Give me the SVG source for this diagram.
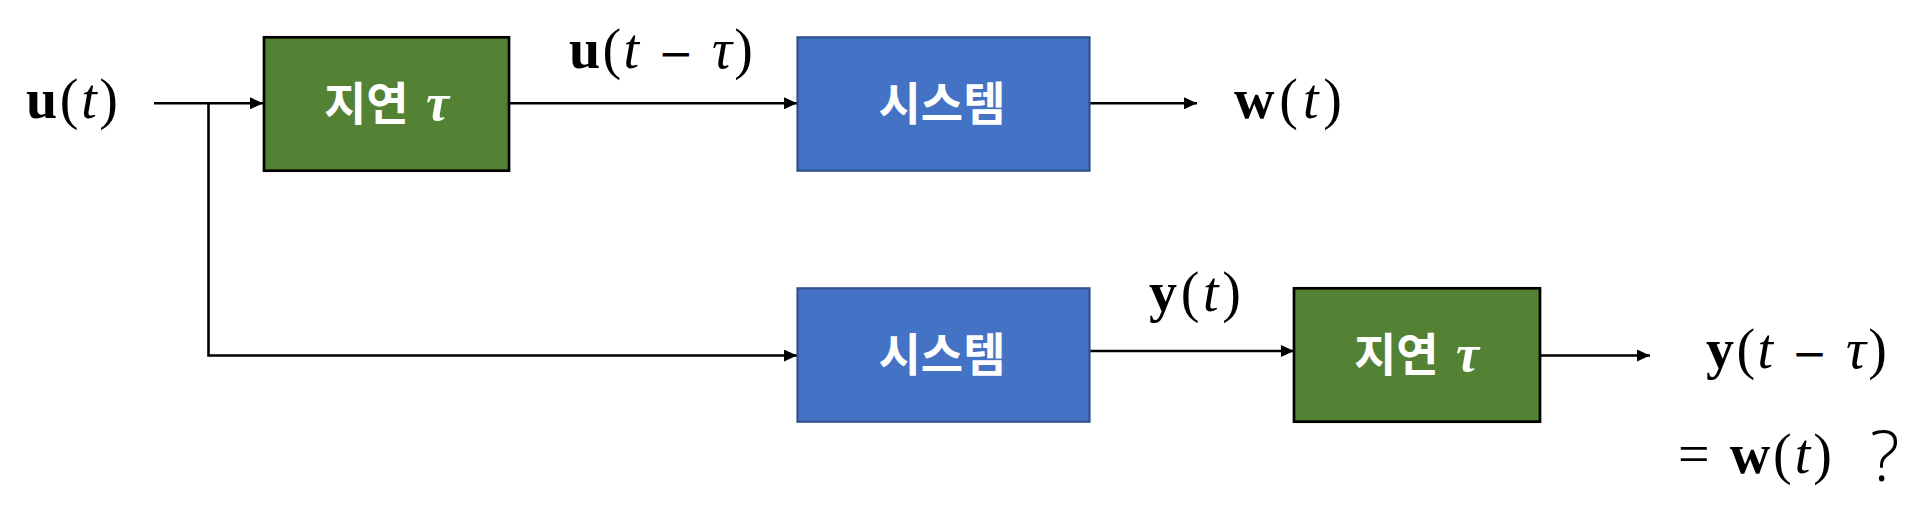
<svg xmlns="http://www.w3.org/2000/svg" width="1919" height="507" viewBox="0 0 1919 507">
<defs>
<marker id="arr" markerUnits="userSpaceOnUse" markerWidth="13" markerHeight="12" refX="13" refY="6" orient="auto">
<path d="M0,0 L13,6 L0,12 z" fill="#000"/>
</marker>
<style>
.delay{fill:#548235;stroke:#000;stroke-width:2.7}
.sys{fill:#4472C4;stroke:#2F528F;stroke-width:2.2}
.kr{font-family:"Noto Sans CJK KR","Noto Sans",sans-serif;font-weight:bold;font-size:46px;fill:#fff}
.tau{font-family:"Liberation Serif",serif;font-style:italic;font-weight:bold;font-size:52px}
.math{font-family:"Liberation Serif",serif;font-size:56px;fill:#000}
.b{font-weight:bold;font-style:normal}
.i{font-style:italic}
.m{font-family:"DejaVu Serif",serif;font-size:42px}
.q{font-family:"Open Sans","Liberation Sans",sans-serif;font-weight:300;font-size:70px;fill:#000}
.conn{fill:none;stroke:#000;stroke-width:2.6}
</style>
</defs>
<rect width="1919" height="507" fill="#fff"/>
<g id="connectors">
<path class="conn" d="M154,103.3 H263" marker-end="url(#arr)"/>
<path class="conn" d="M208.5,103.3 V355.5 H797" marker-end="url(#arr)"/>
<path class="conn" d="M509,103.3 H797" marker-end="url(#arr)"/>
<path class="conn" d="M1090,103.3 H1197" marker-end="url(#arr)"/>
<path class="conn" d="M1084,351 H1294" marker-end="url(#arr)"/>
<path class="conn" d="M1540,355.5 H1650" marker-end="url(#arr)"/>
</g>
<g id="delay1">
<rect class="delay" x="264" y="37.3" width="245" height="133.4"/>
<text class="kr" x="324" y="120">지연<tspan class="tau" x="426">τ</tspan></text>
</g>
<g id="system1">
<rect class="sys" x="797.5" y="37.3" width="292" height="133.4"/>
<text class="kr" x="942" y="120" text-anchor="middle">시스템</text>
</g>
<g id="system2">
<rect class="sys" x="797.5" y="288.3" width="292" height="133.4"/>
<text class="kr" x="942" y="371" text-anchor="middle">시스템</text>
</g>
<g id="delay2">
<rect class="delay" x="1294" y="288.3" width="246" height="133.4"/>
<text class="kr" x="1354" y="371">지연<tspan class="tau" x="1456">τ</tspan></text>
</g>
<g id="labels">
<text class="math" x="26" y="118" textLength="92" lengthAdjust="spacing"><tspan class="b">u</tspan>(<tspan class="i">t</tspan>)</text>
<text class="math" x="569" y="68" textLength="184" lengthAdjust="spacing"><tspan class="b">u</tspan>(<tspan class="i">t</tspan> <tspan class="m">−</tspan> <tspan class="i">τ</tspan>)</text>
<text class="math" x="1234" y="118" textLength="108" lengthAdjust="spacing"><tspan class="b">w</tspan>(<tspan class="i">t</tspan>)</text>
<text class="math" x="1149" y="311" textLength="92" lengthAdjust="spacing"><tspan class="b">y</tspan>(<tspan class="i">t</tspan>)</text>
<text class="math" x="1706" y="368" textLength="181" lengthAdjust="spacing"><tspan class="b">y</tspan>(<tspan class="i">t</tspan> <tspan class="m">−</tspan> <tspan class="i">τ</tspan>)</text>
<text class="math" x="1678" y="473" textLength="154" lengthAdjust="spacing">= <tspan class="b">w</tspan>(<tspan class="i">t</tspan>)</text>
<text class="q" x="1870" y="481">?</text>
</g>
</svg>
